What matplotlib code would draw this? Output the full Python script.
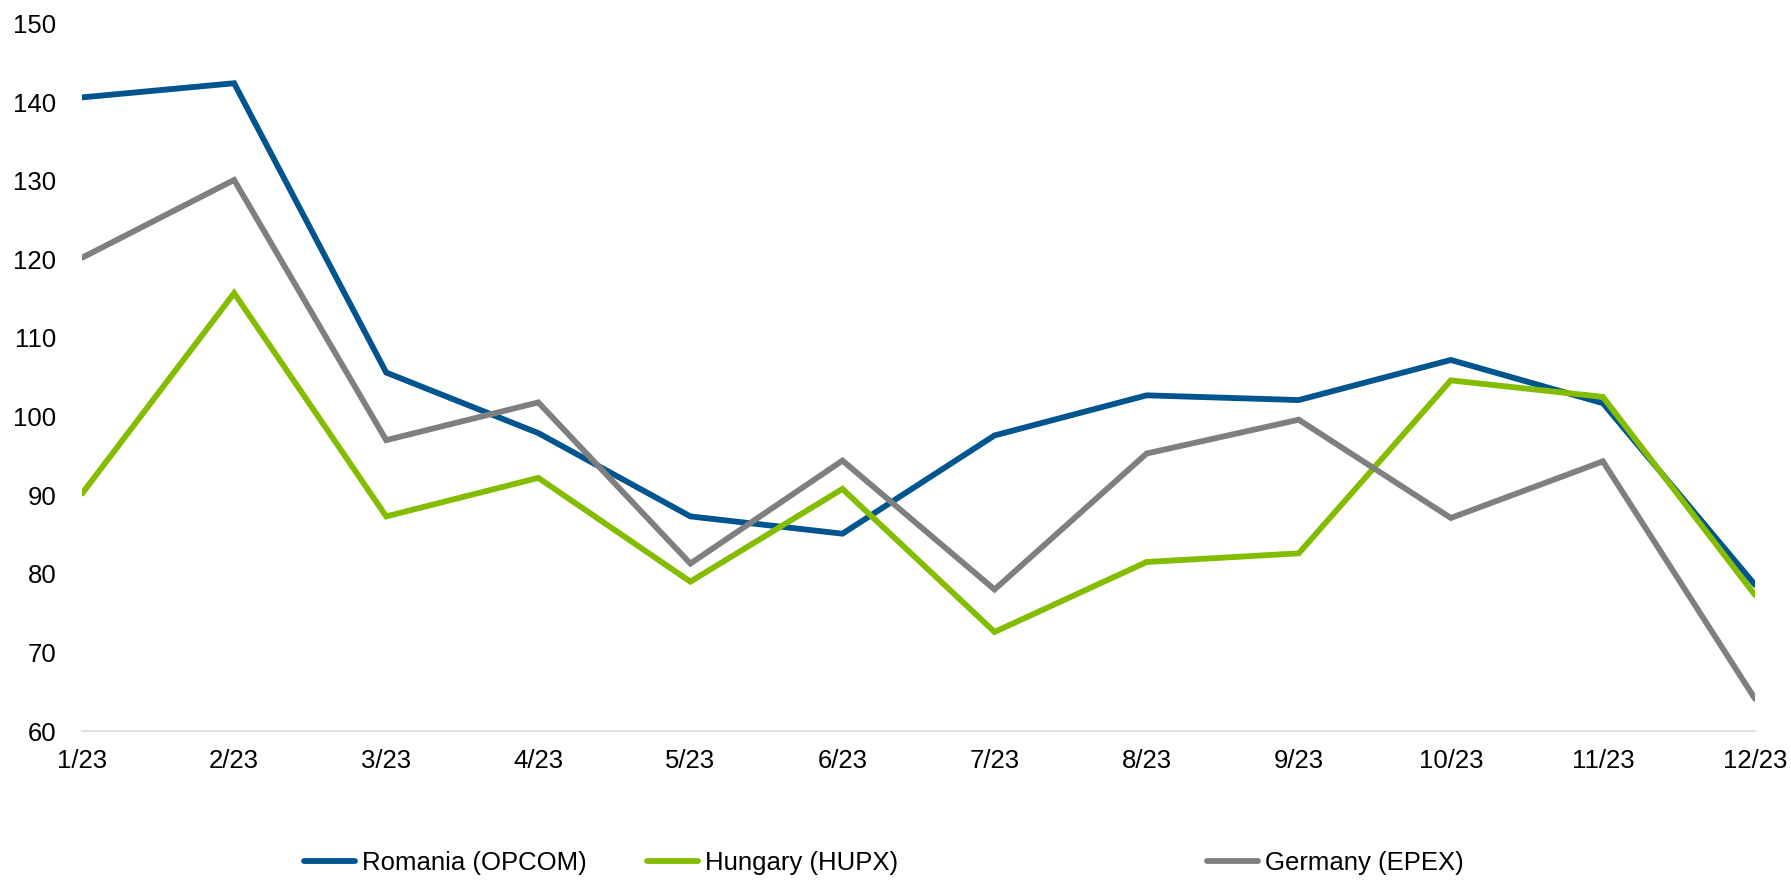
import matplotlib.pyplot as plt
from matplotlib.lines import Line2D

plt.rcParams['font.family'] = ['Liberation Sans', 'DejaVu Sans']
plt.rcParams['savefig.bbox'] = 'standard'

months = ["1/23", "2/23", "3/23", "4/23", "5/23", "6/23",
          "7/23", "8/23", "9/23", "10/23", "11/23", "12/23"]
romania = [140.6, 142.4, 105.6, 97.9, 87.3, 85.1, 97.6, 102.7, 102.1, 107.2, 101.7, 78.6]
hungary = [90.2, 115.7, 87.3, 92.2, 79.0, 90.8, 72.6, 81.5, 82.6, 104.6, 102.5, 77.3]
germany = [120.2, 130.1, 97.0, 101.8, 81.3, 94.4, 78.0, 95.3, 99.6, 87.1, 94.3, 64.1]

series = [
    ("Romania (OPCOM)", romania, "#00558F"),
    ("Hungary (HUPX)", hungary, "#84BD00"),
    ("Germany (EPEX)", germany, "#7F7F7F"),
]

fig = plt.figure(figsize=(17.91, 8.8), dpi=100)
ax = fig.add_axes([0.0458, 0.1693, 0.9341, 0.804])

x = list(range(len(months)))
handles = []
for name, vals, col in series:
    ln, = ax.plot(x, vals, color=col, lw=4.2, solid_capstyle='round',
                  solid_joinstyle='miter', label=name)
    handles.append(ln)

ax.set_xlim(0, 11)
ax.set_ylim(60, 150)
ax.set_yticks(range(60, 151, 10))
ax.set_xticks(x)
ax.set_xticklabels(months)
ax.tick_params(axis='both', length=0, labelsize=18.5, colors='black')
ax.tick_params(axis='y', pad=18.5)
ax.tick_params(axis='x', pad=13)

for s in ['top', 'right', 'left']:
    ax.spines[s].set_visible(False)
ax.spines['bottom'].set_color('#D9D9D9')
ax.spines['bottom'].set_linewidth(1.2)
ax.spines['bottom'].set_zorder(0)

# legend entries sit at uneven spacing, so each gets its own box
legend_x = [304, 647, 1207]
for h, lx in zip(handles, legend_x):
    proxy = Line2D([], [], color=h.get_color(), lw=4.2, solid_capstyle='round')
    fig.legend([proxy], [h.get_label()], loc='center left',
               bbox_to_anchor=(lx / 1791, 0.0193), frameon=False,
               fontsize=18.5, handlelength=2.0, handletextpad=0.25,
               borderpad=0, borderaxespad=0)

fig.savefig("out.png", dpi=100)
